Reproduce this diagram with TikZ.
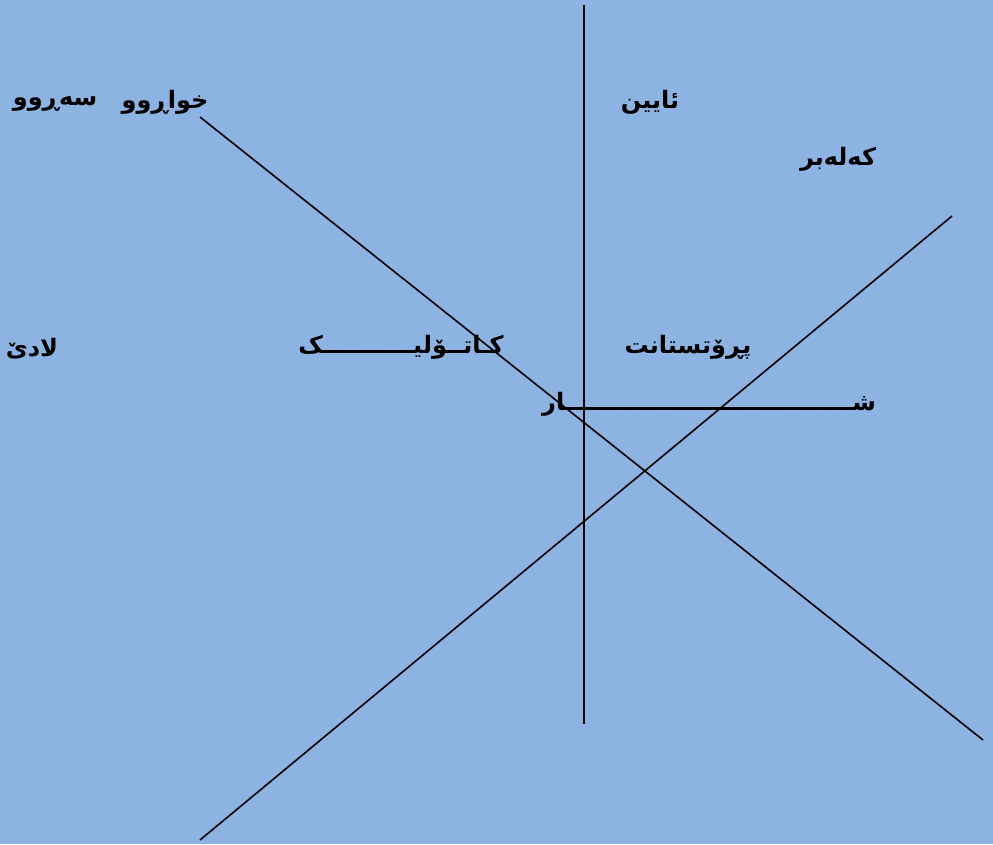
\documentclass[tikz,border=0pt]{standalone}
\usepackage{fontspec}
\TeXXeTstate=1
\newfontfamily\arabicfont[Script=Arabic]{DejaVu Sans}
\definecolor{bg}{RGB}{141,179,226}
\begin{document}
\begin{tikzpicture}[x=1pt,y=-1pt,
  lbl/.style={font=\arabicfont\bfseries\fontsize{24}{28}\selectfont, inner sep=0pt, text=black},
  ln/.style={line width=1.6pt, draw=black}]
\fill[bg] (0,0) rectangle (993,844);
\useasboundingbox (0,0) rectangle (993,844);
% line end points
\coordinate (vt) at (584,5);
\coordinate (vb) at (584,724);
\coordinate (d1a) at (200,117);
\coordinate (d1b) at (983,740);
\coordinate (d2a) at (952,216);
\coordinate (d2b) at (200,840);
\draw[ln] (vt) -- (vb);
\draw[ln] (d1a) -- (d1b);
\draw[ln] (d2a) -- (d2b);
% labels
\node[lbl] (sarw) at (55,104) {\beginR سەڕوو\endR};
\node[lbl] (xwar) at (165,102) {\beginR خواڕوو\endR};
\node[lbl] (ayin) at (650,102) {\beginR ئایین\endR};
\node[lbl] (kal) at (838,159) {\beginR کەلەبر\endR};
\node[lbl] (lad) at (32,349) {\beginR لادێ\endR};
\node[lbl] (kat) at (401,347) {\beginR کـاتــۆلیـــــــــــک\endR};
\node[lbl] (pro) at (688,347) {\beginR پڕۆتستانت\endR};
\node[lbl] (sar) at (709,404) {\beginR شـــــــــــــــــــــــــــــــــــار\endR};
\end{tikzpicture}
\end{document}
